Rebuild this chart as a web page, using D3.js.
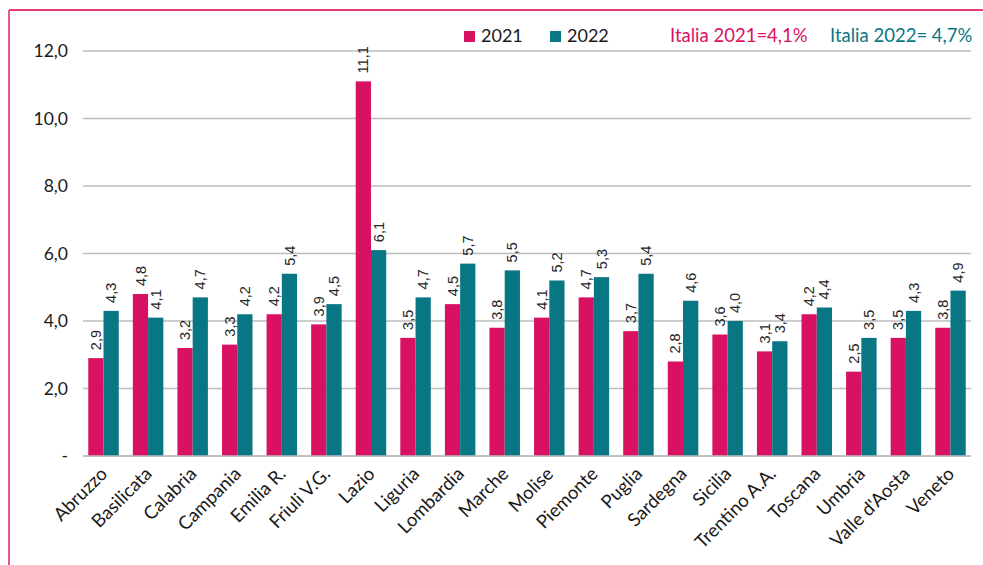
<!DOCTYPE html>
<html>
<head>
<meta charset="utf-8">
<script src="https://cdn.jsdelivr.net/npm/d3@7"></script>
<style>
  body { margin: 0; background: #fff; }
  svg { display: block; }
</style>
</head>
<body>
<script>
var width  = 983
var height = 565
var margin = { top: 51, bottom: 109, left: 83, right: 12 }

// data
var regions = ['Abruzzo', 'Basilicata', 'Calabria', 'Campania', 'Emilia R.', 'Friuli V.G.',
  'Lazio', 'Liguria', 'Lombardia', 'Marche', 'Molise', 'Piemonte', 'Puglia', 'Sardegna',
  'Sicilia', 'Trentino A.A.', 'Toscana', 'Umbria', "Valle d'Aosta", 'Veneto']
var values2021 = [2.9, 4.8, 3.2, 3.3, 4.2, 3.9, 11.1, 3.5, 4.5, 3.8, 4.1, 4.7, 3.7, 2.8, 3.6, 3.1, 4.2, 2.5, 3.5, 3.8]
var values2022 = [4.3, 4.1, 4.7, 4.2, 5.4, 4.5, 6.1, 4.7, 5.7, 5.5, 5.2, 5.3, 5.4, 4.6, 4.0, 3.4, 4.4, 3.5, 4.3, 4.9]
var years = ['2021', '2022']
var yTicks = [0, 2, 4, 6, 8, 10, 12]
var italia = ['Italia 2021=4,1%', 'Italia 2022= 4,7%']

var colors = { '2021': '#d91163', '2022': '#087783' }
var fmt = v => d3.format('.1f')(v).replace('.', ',')

var data = regions.map((r, i) => ({ region: r, '2021': values2021[i], '2022': values2022[i] }))

var svg = d3.select('body')
  .append('svg')
  .attr('width', width)
  .attr('height', height)

// pink frame (top + left)
svg.append('line')
  .attr('x1', 9).attr('x2', width).attr('y1', 10).attr('y2', 10)
  .attr('stroke', '#e63d78').attr('stroke-width', 2)
svg.append('line')
  .attr('x1', 9).attr('x2', 9).attr('y1', 10).attr('y2', height)
  .attr('stroke', '#e6559a').attr('stroke-width', 2)

var xScale = d3.scaleBand()
  .domain(regions)
  .range([margin.left, width - margin.right])
  .paddingInner(0.316)
  .paddingOuter(0.118)

var xSub = d3.scaleBand()
  .domain(years)
  .range([0, xScale.bandwidth()])

var yScale = d3.scaleLinear()
  .domain([0, 12])
  .range([height - margin.bottom, margin.top])

// gridlines
svg.append('g')
  .selectAll('line')
  .data(yTicks)
  .enter()
  .append('line')
  .attr('x1', margin.left)
  .attr('x2', width - margin.right)
  .attr('y1', d => yScale(d))
  .attr('y2', d => yScale(d))
  .attr('stroke', '#bdbdbd')
  .attr('stroke-width', 1.5)

var yAxis = d3.axisLeft(yScale)
  .tickValues(yTicks)
  .tickSize(0)
  .tickPadding(15)
  .tickFormat(d => d === 0 ? '-' : fmt(d))

var gy = svg.append('g')
  .attr('transform', 'translate(' + [margin.left, 0] + ')')
  .call(yAxis)
gy.select('.domain').remove()
gy.selectAll('text')
  .attr('font-family', 'Lato, sans-serif')
  .attr('font-size', 17.5)
  .attr('fill', '#1a1a1a')

// bars
var groups = svg.append('g')
  .selectAll('g')
  .data(data)
  .enter()
  .append('g')
  .attr('transform', d => 'translate(' + [xScale(d.region), 0] + ')')

groups.selectAll('rect')
  .data(d => years.map(y => ({ year: y, value: d[y] })))
  .enter()
  .append('rect')
  .attr('x', d => xSub(d.year))
  .attr('width', xSub.bandwidth())
  .attr('y', d => yScale(d.value))
  .attr('height', d => yScale(0) - yScale(d.value))
  .attr('fill', d => colors[d.year])

// value labels, vertical
groups.selectAll('text')
  .data(d => years.map(y => ({ year: y, value: d[y] })))
  .enter()
  .append('text')
  .attr('transform', d => 'translate(' + [xSub(d.year) + xSub.bandwidth() / 2, yScale(d.value) - 8] + ') rotate(-90)')
  .attr('dy', '0.35em')
  .attr('font-family', '"Liberation Sans", Arial, sans-serif')
  .attr('font-size', 14.5)
  .attr('fill', '#262626')
  .text(d => fmt(d.value))

// baseline
svg.append('line')
  .attr('x1', margin.left)
  .attr('x2', width - margin.right)
  .attr('y1', yScale(0))
  .attr('y2', yScale(0))
  .attr('stroke', '#bdbdbd')
  .attr('stroke-width', 1.5)

// category labels
var xAxis = d3.axisBottom(xScale)
  .tickSize(0)
  .tickPadding(0)

var gx = svg.append('g')
  .attr('transform', 'translate(' + [0, yScale(0)] + ')')
  .call(xAxis)
gx.select('.domain').remove()
gx.selectAll('text')
  .attr('y', 0)
  .attr('dy', 0)
  .attr('transform', 'translate(5,19) rotate(-45)')
  .attr('text-anchor', 'end')
  .attr('font-family', 'Lato, sans-serif')
  .attr('font-size', 18.5)
  .attr('fill', '#1a1a1a')

// legend
var legend = svg.append('g')
  .selectAll('g')
  .data(years)
  .enter()
  .append('g')
  .attr('transform', (d, i) => 'translate(' + [464 + i * 86, 31] + ')')

legend.append('rect')
  .attr('width', 11)
  .attr('height', 11)
  .attr('fill', d => colors[d])

legend.append('text')
  .attr('x', 17)
  .attr('y', 11)
  .attr('font-family', 'Lato, sans-serif')
  .attr('font-size', 18)
  .attr('fill', '#1a1a1a')
  .text(d => d)

svg.append('g')
  .selectAll('text')
  .data(italia)
  .enter()
  .append('text')
  .attr('x', (d, i) => i === 0 ? 670 : 830)
  .attr('y', 42)
  .attr('font-family', 'Lato, sans-serif')
  .attr('font-size', 18.5)
  .attr('fill', (d, i) => colors[years[i]])
  .text(d => d)
</script>
</body>
</html>
